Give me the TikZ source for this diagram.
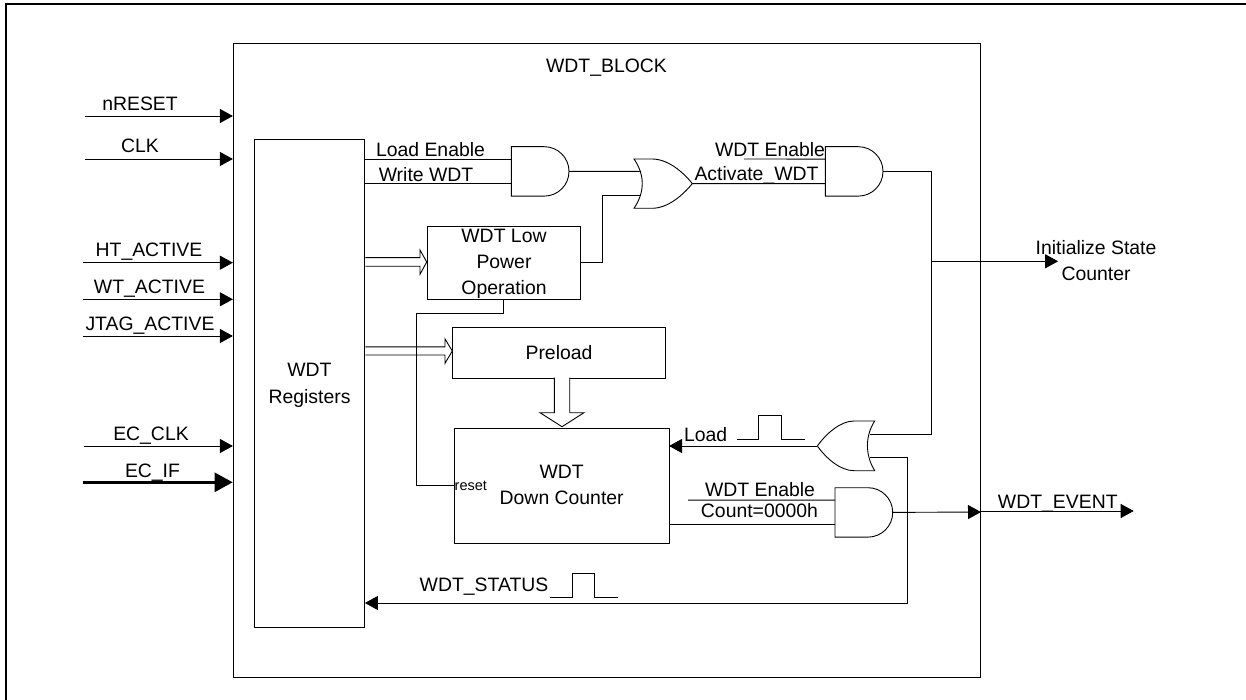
\documentclass[tikz,border=0pt]{standalone}
\usepackage{fontspec}
\setmainfont{Liberation Sans}
\usetikzlibrary{arrows.meta}
\tikzset{
  x=1pt,y=-1pt,
  wire/.style={line width=0.9pt,draw=black},
  box/.style={draw=black,line width=0.9pt,inner sep=0pt,rectangle,anchor=north west},
  lbl/.style={font=\fontsize{19.4}{24}\selectfont,inner sep=0pt,text=black,text height=14pt,text depth=0pt},
  arr/.style={wire,-{Triangle[length=13pt,width=14pt]},shorten >=-0.4pt},
  hollow/.style={line width=0.9pt,draw=black,fill=white,line join=miter},
}
% AND gate, inputs on the left: name, left x, top y
\newcommand{\andgate}[3]{%
  \draw[wire] (#2,#3) -- ++(33,0) arc[start angle=-90,end angle=90,radius=24.7] -- ++(-33,0) -- cycle;
  \coordinate (#1-a) at (#2,#3+12.4);
  \coordinate (#1-b) at (#2,#3+36.9);
  \coordinate (#1-o) at (#2+57.7,#3+24.7);
}
\begin{document}
\begin{tikzpicture}
\useasboundingbox (0,0) rectangle (1246,700);
\coordinate (bl) at (6,700); \coordinate (tl) at (6,4); \coordinate (tr) at (1246,4);
\draw[line width=2pt] (bl) -- (tl) -- (tr);

\node[box,minimum width=747.2pt,minimum height=634pt] (block) at (232.5,43.3) {};
\node[lbl] (blocklbl) at (606.5,66) {WDT\_BLOCK};

\node[box,minimum width=110pt,minimum height=487.5pt] (regs) at (254.4,139.5) {};
\node[lbl] (regslbl1) at (309.5,369.3) {WDT};
\node[lbl] (regslbl2) at (309.5,396) {Registers};

% hollow arrows
\coordinate (r1a) at (regs.east |- 0,257.7);
\coordinate (r1b) at (regs.east |- 0,266.3);
\coordinate (h1a) at (420,257.7);
\coordinate (h1b) at (420,266.3);
\coordinate (r2a) at (regs.east |- 0,346.8);
\coordinate (r2b) at (regs.east |- 0,355);
\coordinate (h2a) at (445,346.8);
\coordinate (h2b) at (445,355);

\node[box,minimum width=153.3pt,minimum height=73.5pt] (lp) at (426.7,225.7) {};
\node[lbl] (lpl1) at (504,235.7) {WDT Low};
\node[lbl] (lpl2) at (504,261.7) {Power};
\node[lbl] (lpl3) at (504,287.7) {Operation};

\node[box,minimum width=213pt,minimum height=51pt] (pre) at (452.3,326.7) {};
\node[lbl] (prelbl) at (559,352) {Preload};

\node[box,minimum width=214.5pt,minimum height=115.5pt] (dc) at (454,427.7) {};
\node[lbl] (dcl1) at (561.7,471) {WDT};
\node[lbl] (dcl2) at (561.7,497.7) {Down Counter};
\node[inner sep=0pt,font=\fontsize{14.5}{17}\selectfont,text height=10.5pt,text depth=0pt,anchor=west] (rst) at (454.5,485.5) {reset};

\draw[hollow] (r1a) -- (h1a) -- (420,250) -- (lp.west |- 0,262) -- (420,274.3) -- (h1b) -- (r1b);
\draw[hollow] (r2a) -- (h2a) -- (445,339) -- (pre.west |- 0,351) -- (445,363.3) -- (h2b) -- (r2b);
\coordinate (d1) at (554.4,377.7); \coordinate (d2) at (569.7,377.7);
\draw[hollow] (d1) -- (554.4,412.7) -- (540,412.7) -- (562,426.7) -- (584,412.7) -- (569.7,412.7) -- (d2);

% reset wire
\coordinate (rw1) at (lp.south |- 0,313.7);
\coordinate (rw2) at (416.3,313.7);
\coordinate (rw3) at (416.3,485.7);
\draw[wire] (lp.south) -- (rw1) -- (rw2) -- (rw3) -- (dc.west |- rw3);

% gates
\andgate{ga}{511.3}{146.7}
\andgate{gb}{825.3}{146.7}
\andgate{gc}{835}{487.7}
% OR gate 1
\draw[wire] (634,159) -- (652,159) .. controls (668,159) and (683,172) .. (692.3,183.6)
  .. controls (683,195) and (668,208.3) .. (652,208.3) -- (634,208.3)
  .. controls (645,192) and (645,175) .. (634,159) -- cycle;
\coordinate (oa-a) at (641,171.3); \coordinate (oa-b) at (641,195.7); \coordinate (oa-o) at (692.3,183.6);
% OR gate 2 (faces left)
\draw[wire] (874.7,421) -- (854,421) .. controls (840,421) and (826,434) .. (817.3,446)
  .. controls (826,458) and (840,470.7) .. (854,470.7) -- (874.7,470.7)
  .. controls (865,455) and (865,436) .. (874.7,421) -- cycle;
\coordinate (ob-a) at (869.5,434); \coordinate (ob-b) at (869.5,457.7); \coordinate (ob-o) at (817.3,446);

% inputs
\coordinate (i1) at (84.7,116);   \coordinate (e1) at (block.west |- i1);
\coordinate (i2) at (84.7,159);   \coordinate (e2) at (block.west |- i2);
\coordinate (i3) at (82.7,262.7); \coordinate (e3) at (block.west |- i3);
\coordinate (i4) at (82.7,299.3); \coordinate (e4) at (block.west |- i4);
\coordinate (i5) at (82.7,336);   \coordinate (e5) at (block.west |- i5);
\coordinate (i6) at (84,446);     \coordinate (e6) at (block.west |- i6);
\coordinate (i7) at (82.7,482.3); \coordinate (e7) at (block.west |- i7);
\draw[arr] (i1) -- (e1); \draw[arr] (i2) -- (e2); \draw[arr] (i3) -- (e3);
\draw[arr] (i4) -- (e4); \draw[arr] (i5) -- (e5); \draw[arr] (i6) -- (e6);
\draw[line width=2.6pt,-{Triangle[length=18pt,width=19pt]},shorten >=-0.2pt] (i7) -- (e7);
\node[lbl] (t1) at (140,103.3) {nRESET};
\node[lbl] (t2) at (140,145.7) {CLK};
\node[lbl] (t3) at (149,250) {HT\_ACTIVE};
\node[lbl] (t4) at (149.5,286.7) {WT\_ACTIVE};
\node[lbl] (t5) at (150,323.3) {JTAG\_ACTIVE};
\node[lbl] (t6) at (151,433.3) {EC\_CLK};
\node[lbl] (t7) at (152.5,470) {EC\_IF};

% registers to gate 1
\draw[wire] (regs.east |- ga-a) -- (ga-a);
\draw[wire] (regs.east |- ga-b) -- (ga-b);
\node[lbl] (le) at (430.5,149.3) {Load Enable};
\node[lbl] (ww) at (426,175) {Write WDT};
\draw[wire] (ga-o) -- (oa-a);
% LP output to OR
\coordinate (lpj) at (602.3,262.3);
\draw[wire] (lp.east |- lpj) -- (lpj) |- (oa-b);
% OR to gate b
\draw[wire] (oa-o) -- (gb-b);
\coordinate (en1) at (744,159);
\draw[wire] (en1) -- (gb-a);
\node[lbl] (wen) at (770,149.3) {WDT Enable};
\node[lbl] (act) at (756.5,173.3) {Activate\_WDT};
% gate b output
\coordinate (j1) at (931.3,171.4);
\coordinate (j2) at (931.3,261.3);
\coordinate (j3) at (1057.7,261.3);
\coordinate (j4) at (931.3,434);
\draw[wire] (gb-o) -- (j1) -- (j2) -- (j4) -- (ob-a);
\draw[arr] (j2) -- (j3);
\node[lbl] (ini1) at (1096,247.7) {Initialize State};
\node[lbl] (ini2) at (1096,274) {Counter};

% load
\draw[arr] (ob-o) -- (dc.east |- ob-o);
\node[lbl] (load) at (705.6,434) {Load};
\coordinate (p1s) at (737,439.3); \coordinate (p1e) at (805,439.3);
\draw[wire] (p1s) -- (758.8,439.3) -- (758.8,415) -- (781,415) -- (781,439.3) -- (p1e);

% gate c
\coordinate (en2) at (688,500.1);
\draw[wire] (en2) -- (gc-a);
\draw[wire] (dc.east |- gc-b) -- (gc-b);
\node[lbl] (wen2) at (760,489.3) {WDT Enable};
\node[lbl] (cnt) at (759.5,510.7) {Count=0000h};

% status
\coordinate (s1) at (907.6,457.7);
\coordinate (s2) at (907.6,603);
\draw[wire] (ob-b) -- (s1) -- (s2);
\draw[arr] (s2) -- (regs.east |- s2);
\node[lbl] (stat) at (484,584.3) {WDT\_STATUS};
\coordinate (p2s) at (550.2,597.7); \coordinate (p2e) at (618.3,597.7);
\draw[wire] (p2s) -- (572.4,597.7) -- (572.4,573.3) -- (594.2,573.3) -- (594.2,597.7) -- (p2e);

% event
\coordinate (ev1) at (block.east |- 0,512);
\coordinate (ev2) at (block.east |- 0,511);
\coordinate (ev3) at (1133.3,511);
\draw[arr] (gc-o) -- (ev1);
\draw[arr] (ev2) -- (ev3);
\node[lbl] (evt) at (1057.8,501.7) {WDT\_EVENT};
\end{tikzpicture}
\end{document}
